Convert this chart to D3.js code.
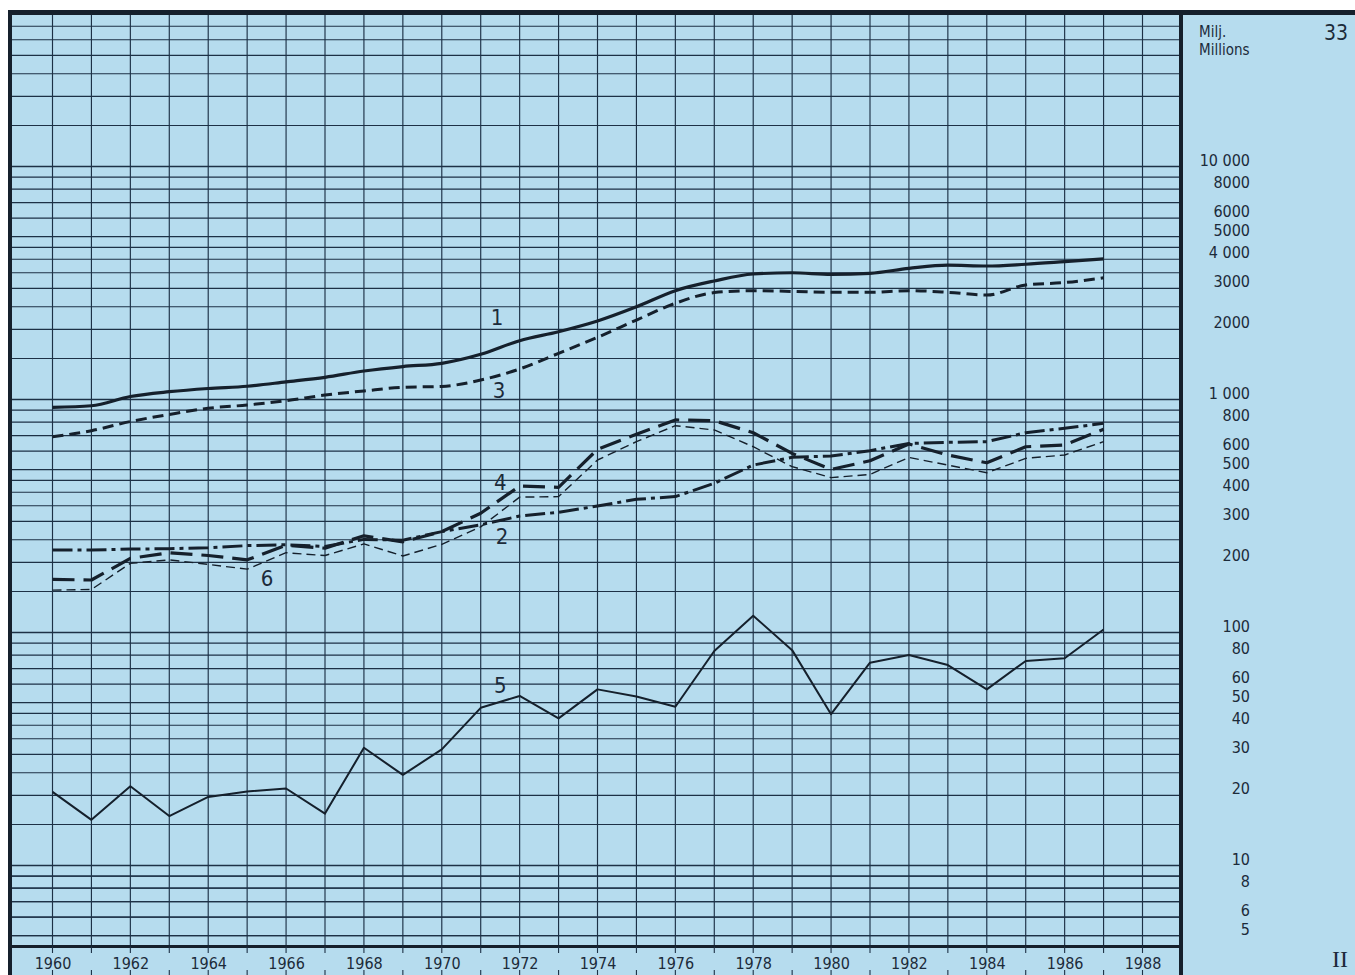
<!DOCTYPE html>
<html>
<head>
<meta charset="utf-8">
<script src="https://cdn.jsdelivr.net/npm/d3@7"></script>
<style>
  html, body { margin: 0; padding: 0; background: #ffffff; }
  svg { display: block; }
  text { font-family: "DejaVu Sans Condensed", "DejaVu Sans", sans-serif; fill: #1c2b3a; }
</style>
</head>
<body>
<svg id="chart" width="1355" height="975"></svg>
<script>
// ---------------- data ----------------
const years = [1960,1961,1962,1963,1964,1965,1966,1967,1968,1969,1970,1971,1972,1973,
               1974,1975,1976,1977,1978,1979,1980,1981,1982,1983,1984,1985,1986,1987];

const series1 = [925, 940, 1030, 1080, 1115, 1140, 1190, 1245, 1325, 1385, 1430, 1563, 1788, 1954,
                 2173, 2500, 2932, 3227, 3457, 3500, 3445, 3480, 3655, 3776, 3740, 3807, 3905, 4010];
const series3 = [692, 735, 804, 863, 917, 947, 988, 1045, 1088, 1128, 1138, 1212, 1352, 1578,
                 1848, 2193, 2587, 2876, 2932, 2910, 2885, 2885, 2932, 2885, 2808, 3100, 3176, 3330];
const series4 = [169, 168, 208, 220, 214, 205, 237, 230, 260, 245, 271, 325, 425, 420,
                 611, 709, 817, 811, 720, 587, 501, 546, 644, 578, 535, 627, 638, 745];
const series2 = [226, 226, 228, 229, 231, 236, 238, 234, 251, 249, 271, 290, 316, 328,
                 349, 373, 383, 437, 523, 565, 572, 603, 648, 655, 659, 720, 752, 790];
const series6 = [152, 153, 198, 205, 196, 187, 220, 214, 240, 213, 239, 284, 381, 383,
                 550, 659, 772, 740, 627, 515, 462, 477, 564, 523, 485, 559, 578, 659];
const series5 = [20.7, 15.7, 21.9, 16.3, 19.7, 20.8, 21.4, 16.7, 32.0, 24.5, 31.5, 47.5, 53.4, 42.8,
                 57, 53.1, 48, 83.3, 118, 84, 44.6, 74.2, 80, 72.5, 57, 75.5, 77.5, 103];

const seriesNames = ["1", "3", "4", "2", "6", "5"];

const yTickValues = [10000, 8000, 6000, 5000, 4000, 3000, 2000, 1000, 800, 600, 500, 400, 300, 200,
                     100, 80, 60, 50, 40, 30, 20, 10, 8, 6, 5];
const yTickLabels = ["10 000", "8000", "6000", "5000", "4 000", "3000", "2000", "1 000", "800", "600",
                     "500", "400", "300", "200", "100", "80", "60", "50", "40", "30", "20", "10", "8", "6", "5"];

const xTickYears = [1960,1962,1964,1966,1968,1970,1972,1974,1976,1978,1980,1982,1984,1986,1988];
const gridYears = d3.range(1960, 1989);
const gridMultipliers = [1, 1.5, 2, 2.5, 3, 3.5, 4, 4.5, 5, 6, 7, 8, 9];
const gridDecades = [1, 10, 100, 1000, 10000];

// label anchors for series numbers: [name, year, value]
const seriesLabelAnchors = [["1", 1971.42, 2240], ["3", 1971.47, 1088], ["4", 1971.5, 442],
                            ["2", 1971.55, 259], ["6", 1965.51, 170], ["5", 1971.5, 59.5]];

const unitTop = "Milj.";
const unitBottom = "Millions";
const pageNumber = "33";
const sectionMark = "II";

// ---------------- layout ----------------
const svg = d3.select("#chart");
const W = 1355, H = 975;
const frameLeft = 9, frameRight = 1181, frameTop = 13, frameBottom = 946.5;
const bg = "#b6dcee", ink = "#15202c", grid = "#1d3146";

const x = d3.scaleLinear().domain([1960, 1988]).range([52.5, 1142.5]);
const y = d3.scaleLog().domain([10, 10000]).range([865.5, 166.5]);

// background
svg.append("rect").attr("x", 8).attr("y", 10).attr("width", W - 8).attr("height", H - 10).attr("fill", bg);

// clip for plot
svg.append("clipPath").attr("id", "plotclip").append("rect")
  .attr("x", frameLeft).attr("y", frameTop).attr("width", frameRight - frameLeft).attr("height", frameBottom - frameTop);

const gGrid = svg.append("g").attr("clip-path", "url(#plotclip)");

// horizontal log grid
const hVals = [];
gridDecades.forEach(d => gridMultipliers.forEach(m => hVals.push(d * m)));
hVals.push(4.5, 5 , 6, 7, 8, 9);
gGrid.selectAll("line.h").data(hVals.filter(v => y(v) >= frameTop - 2 && y(v) <= frameBottom + 2)).enter()
  .append("line").attr("class", "h")
  .attr("x1", frameLeft).attr("x2", frameRight)
  .attr("y1", d => y(d)).attr("y2", d => y(d))
  .attr("stroke", grid)
  .attr("stroke-width", d => (Math.abs(Math.log10(d) - Math.round(Math.log10(d))) < 1e-9) ? 1.6 : 1.15);

// vertical grid
gGrid.selectAll("line.v").data(gridYears).enter()
  .append("line").attr("class", "v")
  .attr("x1", d => x(d)).attr("x2", d => x(d))
  .attr("y1", frameTop).attr("y2", frameBottom)
  .attr("stroke", grid).attr("stroke-width", 1.15);

// series
const line = d3.line().x((d, i) => x(years[i])).y(d => y(d));
const smooth = d3.line().x((d, i) => x(years[i])).y(d => y(d)).curve(d3.curveMonotoneX);
const gS = svg.append("g").attr("clip-path", "url(#plotclip)").attr("fill", "none").attr("stroke", ink)
  .attr("stroke-linejoin", "round");

gS.append("path").attr("d", smooth(series1)).attr("stroke-width", 3.2);
gS.append("path").attr("d", smooth(series3)).attr("stroke-width", 3).attr("stroke-dasharray", "11,6");
gS.append("path").attr("d", line(series4)).attr("stroke-width", 3.2).attr("stroke-dasharray", "22,9");
gS.append("path").attr("d", line(series2)).attr("stroke-width", 3).attr("stroke-dasharray", "20,5,4,5");
gS.append("path").attr("d", line(series6)).attr("stroke-width", 1.4).attr("stroke-dasharray", "9,5");
gS.append("path").attr("d", line(series5)).attr("stroke-width", 2);

// series labels
svg.append("g").selectAll("text").data(seriesLabelAnchors).enter().append("text")
  .attr("x", d => x(d[1])).attr("y", d => y(d[2]))
  .attr("text-anchor", "middle").attr("dominant-baseline", "central")
  .style("font-size", "22px")
  .text(d => d[0]);

// frames
svg.append("rect").attr("x", 8).attr("y", 10).attr("width", W - 8).attr("height", 5).attr("fill", ink);
svg.append("rect").attr("x", 8).attr("y", 10).attr("width", 4).attr("height", H - 10).attr("fill", ink);
svg.append("rect").attr("x", 1179).attr("y", 10).attr("width", 4).attr("height", H - 10).attr("fill", ink);
svg.append("line").attr("x1", frameLeft).attr("x2", frameRight).attr("y1", frameBottom).attr("y2", frameBottom)
  .attr("stroke", ink).attr("stroke-width", 3);

// year ticks below frame
const gTicks = svg.append("g").attr("stroke", grid).attr("stroke-width", 1.1);
gridYears.forEach(yr => {
  gTicks.append("line").attr("x1", x(yr)).attr("x2", x(yr)).attr("y1", frameBottom).attr("y2", 953);
  gTicks.append("line").attr("x1", x(yr)).attr("x2", x(yr)).attr("y1", 970).attr("y2", 975);
});

// x axis labels
const xAxis = d3.axisBottom(x).tickValues(xTickYears).tickFormat(d3.format("d")).tickSize(0).tickPadding(0);
const gx = svg.append("g").attr("transform", "translate(0,957.5)").call(xAxis);
gx.select(".domain").remove();
gx.selectAll("text").style("font-size", "16px").attr("fill", "#1c2b3a")
  .style("font-family", "'DejaVu Sans Condensed', sans-serif");

// y axis labels (right panel)
const yAxis = d3.axisLeft(y).tickValues(yTickValues)
  .tickFormat(d => yTickLabels[yTickValues.indexOf(d)]).tickSize(0).tickPadding(0);
const gy = svg.append("g").attr("transform", "translate(1250,-6.5)").call(yAxis);
gy.select(".domain").remove();
gy.selectAll("text").style("font-size", "16px").attr("fill", "#1c2b3a")
  .style("font-family", "'DejaVu Sans Condensed', sans-serif");

// unit and page texts
svg.append("text").attr("x", 1199).attr("y", 37).style("font-size", "15px").text(unitTop);
svg.append("text").attr("x", 1199).attr("y", 55).style("font-size", "15px").text(unitBottom);
svg.append("text").attr("x", 1348).attr("y", 40).attr("text-anchor", "end").style("font-size", "21px").text(pageNumber);
svg.append("text").attr("x", 1348).attr("y", 967).attr("text-anchor", "end")
  .style("font-size", "24px").style("font-family", "'Liberation Serif', serif").text(sectionMark);
</script>
</body>
</html>
